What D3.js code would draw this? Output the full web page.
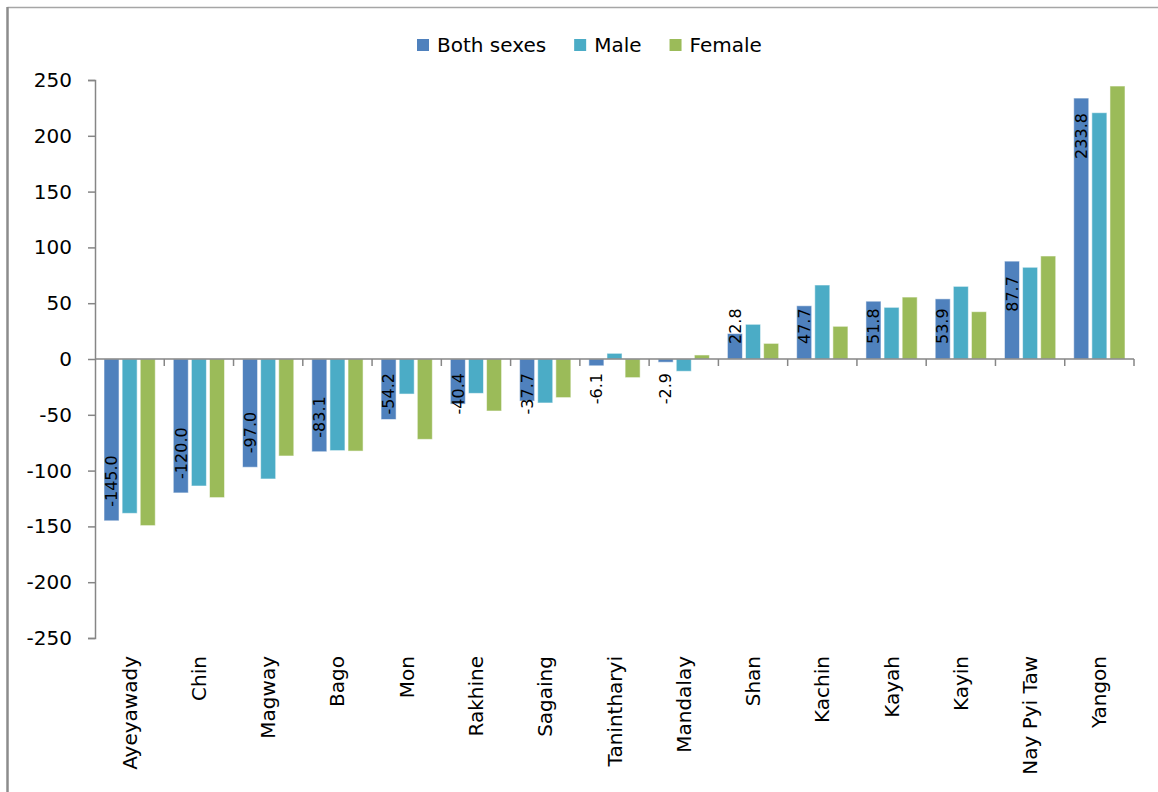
<!DOCTYPE html>
<html>
<head>
<meta charset="utf-8">
<script src="https://cdn.jsdelivr.net/npm/d3@7"></script>
<style>
  body { margin: 0; background: #fff; }
  svg { display: block; font-family: "DejaVu Sans", sans-serif; }
</style>
</head>
<body>
<div id="chart"></div>
<script>
// data
const regions = ["Ayeyawady", "Chin", "Magway", "Bago", "Mon", "Rakhine", "Sagaing",
    "Tanintharyi", "Mandalay", "Shan", "Kachin", "Kayah", "Kayin", "Nay Pyi Taw", "Yangon"];
const seriesNames = ["Both sexes", "Male", "Female"];
const bothSexes = [-145.0, -120.0, -97.0, -83.1, -54.2, -40.4, -37.7, -6.1, -2.9, 22.8, 47.7, 51.8, 53.9, 87.7, 233.8];
const male = [-138.3, -113.8, -107.5, -82.1, -31.4, -30.8, -39.4, 5.1, -11.0, 31.1, 66.3, 46.3, 65.1, 82.2, 220.7];
const female = [-149.3, -124.2, -86.9, -82.5, -72.0, -46.6, -34.6, -16.7, 3.6, 14.0, 29.3, 55.5, 42.4, 92.3, 244.6];
const yTicks = [-250, -200, -150, -100, -50, 0, 50, 100, 150, 200, 250];
const colors = ["#4f81bd", "#4bacc6", "#9bbb59"];

const W = 1158, H = 792;
const axisColor = "#868686";

const svg = d3.select("#chart")
    .append("svg")
    .attr("width", W)
    .attr("height", H);

// frame of the chart area (left and top edges are visible)
svg.append("line")
    .attr("x1", 7.5).attr("x2", W)
    .attr("y1", 7.5).attr("y2", 7.5)
    .style("stroke", "#a6a6a6")
    .style("stroke-width", 1.5);
svg.append("line")
    .attr("x1", 7.5).attr("x2", 7.5)
    .attr("y1", 7).attr("y2", H)
    .style("stroke", "#8c8c8c")
    .style("stroke-width", 2.5);

const x0 = d3.scaleBand()
    .domain(regions)
    .range([95, 1134]);

const x1 = d3.scaleBand()
    .domain(seriesNames)
    .range([9, x0.bandwidth() - 9])
    .paddingInner(0.17);

const y = d3.scaleLinear()
    .domain([-250, 250])
    .range([638, 80]);

const colour = d3.scaleOrdinal()
    .domain(seriesNames)
    .range(colors);

const rows = regions.map((r, i) => ({
    region: r,
    values: [
        { key: "Both sexes", value: bothSexes[i] },
        { key: "Male", value: male[i] },
        { key: "Female", value: female[i] }
    ]
}));

// bars
const groups = svg.append("g")
    .selectAll("g")
    .data(rows)
    .join("g")
    .attr("transform", d => "translate(" + x0(d.region) + ",0)");

groups.selectAll("rect")
    .data(d => d.values)
    .join("rect")
    .attr("x", d => x1(d.key))
    .attr("width", x1.bandwidth())
    .attr("y", d => y(Math.max(0, d.value)))
    .attr("height", d => Math.abs(y(d.value) - y(0)))
    .style("fill", d => colour(d.key))
    .style("stroke", "#ffffff")
    .style("stroke-opacity", 0.55)
    .style("stroke-width", 1);

// y axis
const yAxis = svg.append("g")
    .attr("transform", "translate(95,0)")
    .call(d3.axisLeft(y).tickValues(yTicks).tickSize(7).tickPadding(16).tickFormat(d3.format("d")));
yAxis.select(".domain").style("stroke", axisColor).style("stroke-width", 1.5);
yAxis.selectAll(".tick line").style("stroke", axisColor).style("stroke-width", 1.5);
yAxis.selectAll("text")
    .style("font-family", "DejaVu Sans")
    .style("font-size", "20px")
    .style("fill", "#000")
    .text(d => d < 0 ? "-" + Math.abs(d) : d);

// x axis along zero, with ticks between categories
const zero = y(0);
svg.append("line")
    .attr("x1", 95).attr("x2", 1134)
    .attr("y1", zero).attr("y2", zero)
    .style("stroke", axisColor)
    .style("stroke-width", 1.5);

svg.append("g")
    .selectAll("line")
    .data(regions.slice(1).concat(["_end"]))
    .join("line")
    .attr("x1", d => d === "_end" ? 1134 : x0(d))
    .attr("x2", d => d === "_end" ? 1134 : x0(d))
    .attr("y1", zero)
    .attr("y2", zero + 7)
    .style("stroke", axisColor)
    .style("stroke-width", 1.5);

// category labels, rotated
svg.append("g")
    .selectAll("text")
    .data(regions)
    .join("text")
    .attr("transform", d => "translate(" + (x0(d) + x0.bandwidth() / 2) + ",656) rotate(-90)")
    .attr("dy", "0.35em")
    .attr("text-anchor", "end")
    .style("font-size", "20px")
    .style("fill", "#000")
    .text(d => d);

// value labels on the "Both sexes" bars
const xBoth = x1("Both sexes") + x1.bandwidth() / 2;
const labels = svg.append("g")
    .selectAll("text")
    .data(rows)
    .join("text")
    .attr("text-anchor", "start")
    .attr("dy", "0.36em")
    .style("font-size", "16px")
    .style("fill", "#000")
    .text(d => d.values[0].value.toFixed(1));

labels.each(function(d) {
    const len = this.getComputedTextLength();
    const v = d.values[0].value;
    const end = y(v);
    let bottom;
    if (v < 0) {
        bottom = Math.max(end - 14, zero + 14 + len);
    } else {
        bottom = Math.min(end + 15 + len, zero - 15);
    }
    d3.select(this)
        .attr("transform", "translate(" + (x0(d.region) + xBoth) + "," + bottom + ") rotate(-90)");
});

// legend
const legend = svg.append("g");
let lx = 417;
seriesNames.forEach((name, i) => {
    legend.append("rect")
        .attr("x", lx)
        .attr("y", 39)
        .attr("width", 12)
        .attr("height", 12)
        .style("fill", colors[i]);
    const t = legend.append("text")
        .attr("x", lx + 20)
        .attr("y", 52)
        .style("font-size", "20px")
        .style("fill", "#000")
        .text(name);
    lx = lx + 20 + t.node().getComputedTextLength() + 28;
});
</script>
</body>
</html>
